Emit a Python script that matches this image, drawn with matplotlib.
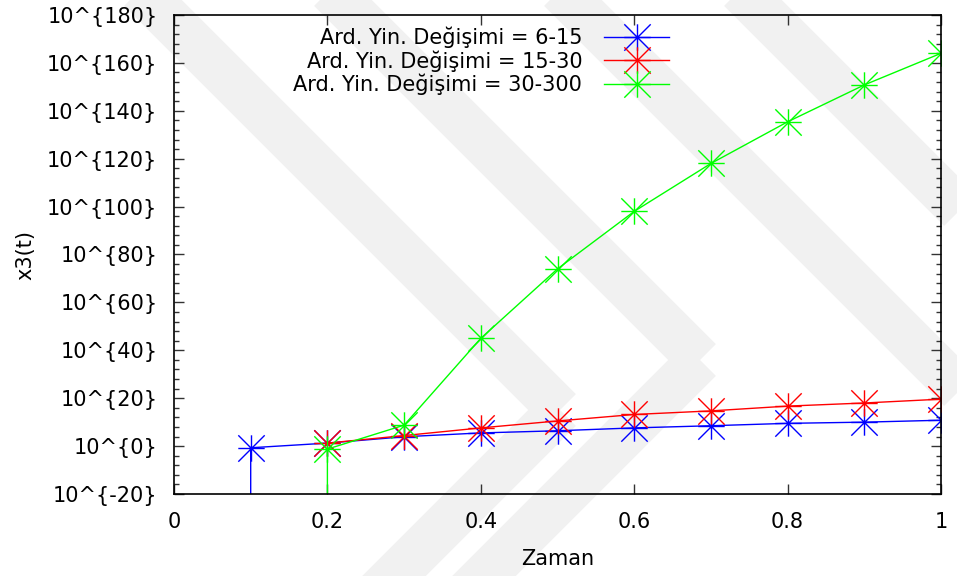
import numpy as np
import matplotlib
matplotlib.use("Agg")
import matplotlib.pyplot as plt
from matplotlib.path import Path
from matplotlib.ticker import FixedLocator, FixedFormatter, NullFormatter

plt.rcParams['font.family'] = ['DejaVu Sans']

# ---- data (exponents of 10) ----
blue_time = [0.1, 0.1, 0.2, 0.3, 0.4, 0.5, 0.6, 0.7, 0.8, 0.9, 1.0]
blue_exp = [-100, -0.7, 1.25, 3.9, 5.5, 6.4, 7.6, 8.5, 9.5, 10.0, 10.8]
red_time = [0.2, 0.3, 0.4, 0.5, 0.6, 0.7, 0.8, 0.9, 1.0]
red_exp = [1.25, 4.4, 7.6, 10.5, 13.2, 14.7, 16.7, 18.0, 19.6]
green_time = [0.2, 0.2, 0.3, 0.4, 0.5, 0.6, 0.7, 0.8, 0.9, 1.0]
green_exp = [-100, -1.25, 8.75, 45.0, 74.0, 98.0, 118.0, 135.4, 150.8, 164.0]

labels = ["Ard. Yin. Değişimi = 6-15",
          "Ard. Yin. Değişimi = 15-30",
          "Ard. Yin. Değişimi = 30-300"]
colors = ["#0000ff", "#ff0000", "#00ff00"]

ytick_exp = list(range(-20, 181, 20))
ytick_labels = ["10^{%d}" % e for e in ytick_exp]
xticks = [0, 0.2, 0.4, 0.6, 0.8, 1.0]
xtick_labels = ["0", "0.2", "0.4", "0.6", "0.8", "1"]

FS = 15

# asterisk marker (plus + cross)
verts = [(-1, 0), (1, 0), (0, -1), (0, 1), (-1, -1), (1, 1), (-1, 1), (1, -1)]
codes = [Path.MOVETO, Path.LINETO] * 4
star = Path(verts, codes)

fig = plt.figure(figsize=(9.57, 5.76), dpi=100)

# faint watermark bands (background decoration)
wm = '#f1f1f1'
W, H = 957.0, 576.0
def band(p0, p1, w):
    (x0, y0), (x1, y1) = p0, p1
    dx, dy = x1 - x0, y1 - y0
    n = np.hypot(dx, dy)
    nx, ny = -dy / n * w / 2, dx / n * w / 2
    pts = [(x0 + nx, y0 + ny), (x1 + nx, y1 + ny), (x1 - nx, y1 - ny), (x0 - nx, y0 - ny)]
    return [(x / W, 1 - y / H) for x, y in pts]
segs = [((140, -10), (560, 410)), ((560, 410), (330, 640)),
        ((330, -10), (700, 360)), ((700, 360), (420, 640)),
        ((560, -10), (960, 390)), ((740, -10), (960, 210))]
for a, b in segs:
    fig.patches.append(plt.Polygon(band(a, b, 45), closed=True, transform=fig.transFigure,
                                   facecolor=wm, edgecolor='none', zorder=-10))

ax = fig.add_axes([174/957, 1 - 494/576, (941 - 174)/957, (494 - 15)/576])
ax.patch.set_alpha(0)

for t, e, c, lab in [(blue_time, blue_exp, colors[0], labels[0]),
                     (red_time, red_exp, colors[1], labels[1]),
                     (green_time, green_exp, colors[2], labels[2])]:
    ax.plot(t, [10.0**v for v in e], color=c, lw=1.0, marker=star, markersize=19,
            fillstyle='none', mew=1.0, label=lab)

ax.set_yscale('log')
ax.set_xlim(0, 1)
ax.set_ylim(1e-20, 1e180)
ax.yaxis.set_major_locator(FixedLocator([10.0**e for e in ytick_exp]))
ax.yaxis.set_major_formatter(FixedFormatter(ytick_labels))
ax.yaxis.set_minor_locator(FixedLocator([10.0**e for e in range(-20, 181, 4) if e % 20 != 0]))
ax.yaxis.set_minor_formatter(NullFormatter())
ax.set_xticks(xticks)
ax.set_xticklabels(xtick_labels)

ax.tick_params(axis='both', which='both', direction='in', top=True, right=True,
               labelsize=FS, color='#333333')
ax.tick_params(axis='both', which='major', length=7, width=1)
ax.tick_params(axis='x', which='major', pad=13)
ax.tick_params(axis='y', which='major', pad=12)
ax.tick_params(axis='y', which='minor', length=3.5, width=1)
for s in ax.spines.values():
    s.set_linewidth(1.2)

ax.set_xlabel("Zaman", fontsize=FS, labelpad=12)
ax.set_ylabel("x3(t)", fontsize=FS, labelpad=8)

leg = ax.legend(loc='upper right', bbox_to_anchor=(0.656, 0.993), frameon=False,
                markerfirst=False, fontsize=FS, handlelength=3.1,
                handletextpad=1.05, labelspacing=0.1, borderaxespad=0)
for col in leg._legend_handle_box.get_children():
    col.align = 'right'

fig.savefig("out.png", dpi=100)
